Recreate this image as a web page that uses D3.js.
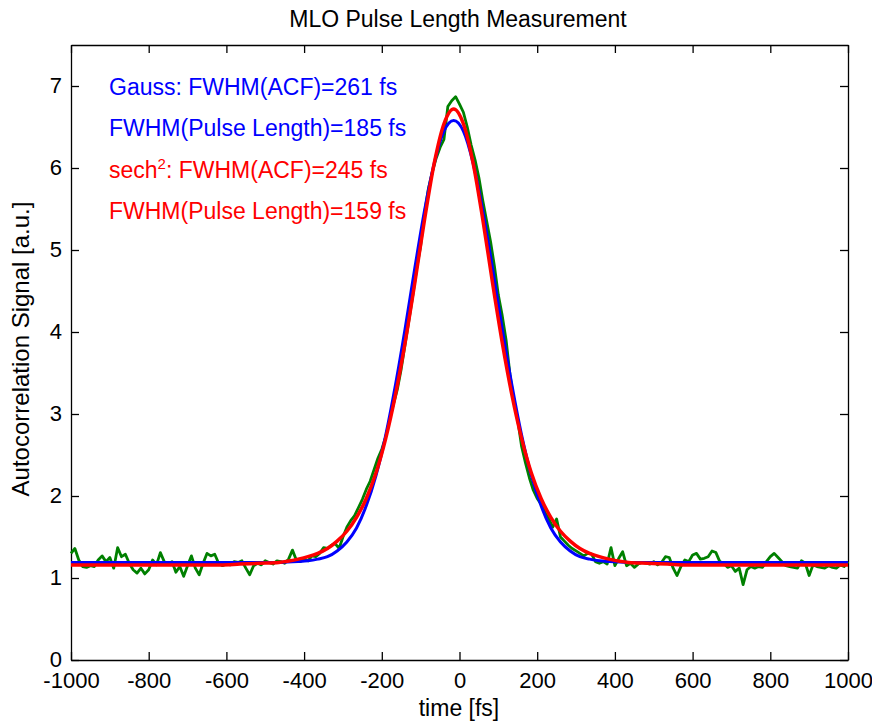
<!DOCTYPE html>
<html>
<head>
<meta charset="utf-8">
<script src="https://cdn.jsdelivr.net/npm/d3@7"></script>
<style>
body{margin:0;background:white;}
text{font-family:"Liberation Sans", Arial, sans-serif;}
</style>
</head>
<body>
<div id="container"></div>
<script>
let w = 872;
let h = 722;

// measured autocorrelation trace, one reading every 10 fs (-1000 .. 1000)
let measuredTime = d3.range(-1000, 1001, 10);
let measuredVals = [
  1.30,1.36,1.22,1.14,1.13,1.15,1.14,1.22,1.27,1.20,
  1.25,1.12,1.37,1.26,1.29,1.18,1.10,1.06,1.12,1.05,
  1.10,1.22,1.16,1.31,1.20,1.17,1.20,1.07,1.14,1.02,
  1.15,1.27,1.12,1.04,1.18,1.30,1.27,1.29,1.18,1.15,
  1.17,1.16,1.20,1.19,1.21,1.12,1.04,1.15,1.18,1.16,
  1.21,1.19,1.17,1.21,1.20,1.18,1.23,1.34,1.22,1.20,
  1.23,1.21,1.27,1.26,1.30,1.37,1.36,1.40,1.42,1.36,
  1.50,1.62,1.70,1.76,1.86,1.96,2.08,2.18,2.32,2.46,
  2.57,2.72,2.93,3.12,3.30,3.55,3.85,4.15,4.45,4.78,
  5.05,5.45,5.75,5.95,6.12,6.25,6.35,6.75,6.82,6.87,
  6.78,6.68,6.50,6.28,6.10,5.88,5.60,5.35,5.10,4.80,
  4.45,4.20,3.90,3.48,3.15,2.92,2.60,2.40,2.22,2.07,
  1.97,1.90,1.80,1.72,1.62,1.72,1.50,1.45,1.40,1.36,
  1.33,1.30,1.27,1.30,1.29,1.20,1.18,1.20,1.17,1.37,
  1.15,1.24,1.32,1.15,1.18,1.13,1.17,1.19,1.18,1.17,
  1.20,1.16,1.19,1.26,1.25,1.12,1.03,1.14,1.22,1.20,
  1.28,1.30,1.23,1.24,1.26,1.33,1.31,1.20,1.18,1.13,
  1.15,1.08,1.12,0.92,1.10,1.14,1.12,1.14,1.13,1.20,
  1.26,1.30,1.25,1.20,1.15,1.14,1.13,1.12,1.21,1.18,
  1.03,1.16,1.14,1.13,1.12,1.15,1.13,1.12,1.16,1.14,
  1.20
];

// fitted curves
let fitTime = [-1000,-800,-615,-565,-515,-465,-415,-390,-365,-340,-315,-290,-265,-240,-215,-190,-165,-140,-115,-90,-65,-40,
  -15,10,35,60,85,110,135,160,185,210,235,260,285,310,335,360,385,435,485,535,585,785,1000];
let gaussVals = [1.19,1.19,1.19,1.19,1.19,1.19,1.20,1.21,1.23,1.26,1.33,1.44,1.61,1.88,2.25,2.74,3.35,4.04,4.78,5.48,6.06,6.45,
  6.58,6.45,6.06,5.48,4.78,4.04,3.35,2.74,2.25,1.88,1.61,1.44,1.33,1.26,1.23,1.21,1.20,1.19,1.19,1.19,1.19,1.19,1.19];
let sechVals = [1.16,1.16,1.16,1.17,1.18,1.19,1.23,1.26,1.30,1.36,1.45,1.57,1.74,1.97,2.28,2.70,3.23,3.87,4.60,5.37,6.06,6.54,
  6.72,6.54,6.06,5.37,4.60,3.87,3.23,2.70,2.28,1.97,1.74,1.57,1.45,1.36,1.30,1.26,1.23,1.19,1.18,1.17,1.16,1.16,1.16];

let xTicks = [-1000,-800,-600,-400,-200,0,200,400,600,800,1000];
let yTicks = [0,1,2,3,4,5,6,7];

let gaussText = ["Gauss: FWHM(ACF)=261 fs", "FWHM(Pulse Length)=185 fs"];
let sechText = [": FWHM(ACF)=245 fs", "FWHM(Pulse Length)=159 fs"];

let viz = d3.select("#container")
.append("svg")
.attr("width", w)
.attr("height", h)
.style("background-color", "white")
;

let plotLeft = 71, plotRight = 848, plotTop = 45, plotBottom = 660;

let xScale = d3.scaleLinear().domain([-1000,1000]).range([plotLeft,plotRight]);
let yScale = d3.scaleLinear().domain([0,7.5]).range([plotBottom,plotTop]);

// plain labels, ascii minus and no thousands comma
function plainNumber(d){ return String(d); }

// axes on all four sides, ticks pointing inwards like matlab
let xAxisGroup = viz.append('g').attr('class','xAxis')
.attr('transform','translate(0,'+plotBottom+')')
.call(d3.axisBottom(xScale).tickValues(xTicks).tickFormat(plainNumber).tickSize(-8).tickSizeOuter(0).tickPadding(12));

let xTopGroup = viz.append('g').attr('class','xTop')
.attr('transform','translate(0,'+plotTop+')')
.call(d3.axisTop(xScale).tickValues(xTicks).tickSize(-8).tickSizeOuter(0).tickFormat(''));

let yAxisGroup = viz.append('g').attr('class','yAxis')
.attr('transform','translate('+plotLeft+',0)')
.call(d3.axisLeft(yScale).tickValues(yTicks).tickFormat(plainNumber).tickSize(-8).tickSizeOuter(0).tickPadding(9));

let yRightGroup = viz.append('g').attr('class','yRight')
.attr('transform','translate('+plotRight+',0)')
.call(d3.axisRight(yScale).tickValues(yTicks).tickSize(-8).tickSizeOuter(0).tickFormat(''));

viz.selectAll('.domain').attr('stroke','#000').attr('stroke-width',1.3);
viz.selectAll('.tick line').attr('stroke','#000').attr('stroke-width',1.3);
viz.selectAll('.tick text')
.attr('font-family','"Liberation Sans", Arial, sans-serif')
.attr('font-size',22)
.attr('fill','#000');
// the "0" on y sits just above "-1000", lift it a hair
yAxisGroup.selectAll('.tick text').attr('dy','0.28em');

// the three traces
function getX(d){ return xScale(d.t); }
function getY(d){ return yScale(d.v); }

let measured = measuredTime.map(function(t,i){ return {t:t, v:measuredVals[i]}; });
let gauss = fitTime.map(function(t,i){ return {t:t, v:gaussVals[i]}; });
let sech = fitTime.map(function(t,i){ return {t:t, v:sechVals[i]}; });

let rawLine = d3.line().x(getX).y(getY);
let fitLine = d3.line().x(getX).y(getY).curve(d3.curveMonotoneX);

let vizGroup = viz.append('g').attr('class','vizgroup');

vizGroup.append('path').datum(measured)
.attr('d',rawLine)
.attr('fill','none')
.attr('stroke','#008000')
.attr('stroke-width',2.8)
.attr('stroke-linejoin','round');

vizGroup.append('path').datum(gauss)
.attr('d',fitLine)
.attr('fill','none')
.attr('stroke','#0000ff')
.attr('stroke-width',3);

vizGroup.append('path').datum(sech)
.attr('d',fitLine)
.attr('fill','none')
.attr('stroke','#ff0000')
.attr('stroke-width',3.5);

// labels
viz.append('text')
.attr('x',458).attr('y',27)
.attr('text-anchor','middle')
.attr('font-size',23)
.text('MLO Pulse Length Measurement');

viz.append('text')
.attr('x',459).attr('y',716)
.attr('text-anchor','middle')
.attr('font-size',23)
.text('time [fs]');

viz.append('text')
.attr('transform','translate(29,349) rotate(-90)')
.attr('text-anchor','middle')
.attr('font-size',24)
.text('Autocorrelation Signal [a.u.]');

// fit results, top left
viz.append('text').attr('x',109).attr('y',95).attr('font-size',23).attr('fill','#0000ff').text(gaussText[0]);
viz.append('text').attr('x',109).attr('y',136).attr('font-size',23).attr('fill','#0000ff').text(gaussText[1]);

let sechLabel = viz.append('text').attr('x',109).attr('y',178).attr('font-size',23).attr('fill','#ff0000');
sechLabel.append('tspan').text('sech');
sechLabel.append('tspan').attr('font-size',15).attr('dy',-9).text('2');
sechLabel.append('tspan').attr('dy',9).text(sechText[0]);

viz.append('text').attr('x',109).attr('y',219).attr('font-size',23).attr('fill','#ff0000').text(sechText[1]);
</script>
</body>
</html>
